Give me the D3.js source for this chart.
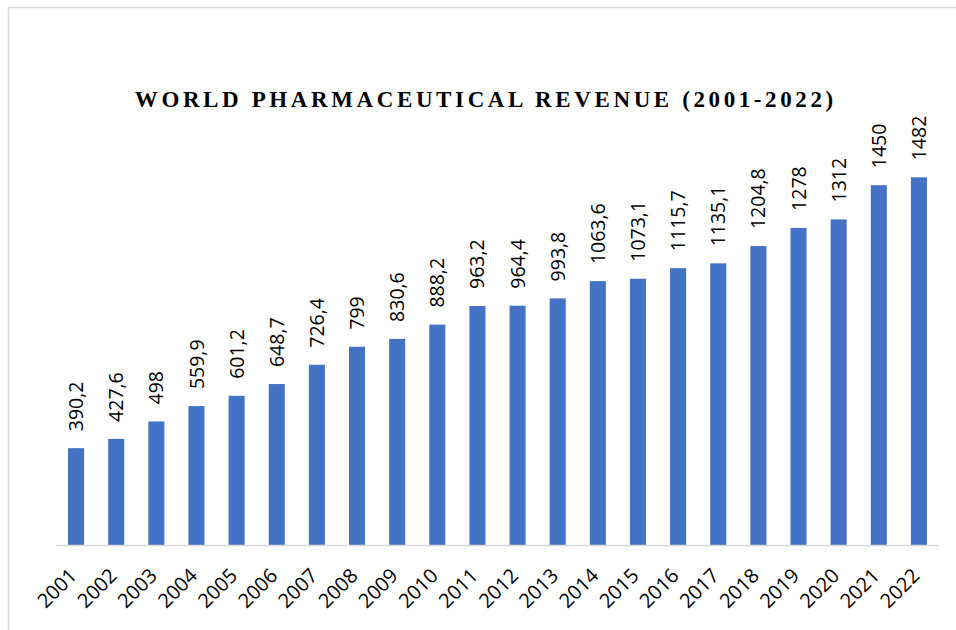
<!DOCTYPE html>
<html>
<head>
<meta charset="utf-8">
<script src="https://cdn.jsdelivr.net/npm/d3@7"></script>
<style>
    body { margin: 0; background: #ffffff; }
    #chart { width: 956px; height: 630px; }
    .chartTitle { font-family: "Liberation Serif", "Times New Roman", serif; font-weight: bold; font-size: 23px; fill: #000000; }
    .barLabels { font-family: "Open Sans", sans-serif; font-size: 19.5px; fill: #000000; }
    .xLabels { font-family: "Open Sans", sans-serif; font-size: 20px; fill: #000000; }
</style>
</head>
<body>
<div id="chart"><svg width="956" height="630"></svg></div>
<script>

// data
const years = ["2001", "2002", "2003", "2004", "2005", "2006", "2007", "2008", "2009", "2010", "2011",
               "2012", "2013", "2014", "2015", "2016", "2017", "2018", "2019", "2020", "2021", "2022"];
const revenue = [390.2, 427.6, 498, 559.9, 601.2, 648.7, 726.4, 799, 830.6, 888.2, 963.2,
                 964.4, 993.8, 1063.6, 1073.1, 1115.7, 1135.1, 1204.8, 1278, 1312, 1450, 1482];
const titleText = "WORLD PHARMACEUTICAL REVENUE (2001-2022)";

function makeChart() {

    /**********************
    ***** BASIC SETUP *****
    **********************/

    const width = 956;
    const height = 630;
    const margin = {top: 148, left: 56, right: 17, bottom: 85};

    const svg = d3.select("#chart").select("svg");

    const data = years.map((y, i) => ({year: y, value: revenue[i]}));

    // chart area border (runs off the right and bottom edges)
    svg.append("rect")
        .attr("x", 8.5)
        .attr("y", 7.5)
        .attr("width", 1000)
        .attr("height", 1000)
        .attr("fill", "none")
        .attr("stroke", "#d9d9d9")
        .attr("stroke-width", 1.5);

    /***********************
    ***** X & Y SCALES *****
    ***********************/

    const xBandScale = d3.scaleBand()
        .domain(years)
        .range([margin.left, width - margin.right])
        .paddingInner(0.6)
        .paddingOuter(0.3);

    const yScale = d3.scaleLinear()
        .domain([0, 1600])
        .range([height - margin.bottom, margin.top]);

    /***************
    ***** BARS *****
    ***************/

    const plot = svg.append("g").attr("id", "plot");

    plot.selectAll(".rects")
        .data(data)
        .enter()
        .append("rect")
        .attr("class", "rects")
        .attr("x", d => xBandScale(d.year))
        .attr("y", d => yScale(d.value))
        .attr("width", xBandScale.bandwidth())
        .attr("height", d => yScale(0) - yScale(d.value))
        .attr("fill", "#4472c4");

    // x axis baseline
    plot.append("line")
        .attr("x1", margin.left)
        .attr("x2", width - margin.right)
        .attr("y1", yScale(0) + 0.5)
        .attr("y2", yScale(0) + 0.5)
        .attr("stroke", "#d9d9d9")
        .attr("stroke-width", 1.5);

    /*********************
    ***** BAR LABELS *****
    *********************/

    plot.selectAll(".barLabels")
        .data(data)
        .enter()
        .append("text")
        .attr("class", "barLabels")
        .text(d => String(d.value).replace(".", ","))
        .attr("text-anchor", "start")
        .attr("dy", "0.36em")
        .attr("transform", d => {
            const cx = xBandScale(d.year) + xBandScale.bandwidth() / 2;
            return `translate(${cx}, ${yScale(d.value) - 17}) rotate(-90)`;
        });

    /***********************
    ***** X AXIS LABELS ****
    ***********************/

    plot.selectAll(".xLabels")
        .data(data)
        .enter()
        .append("text")
        .attr("class", "xLabels")
        .text(d => d.year)
        .attr("text-anchor", "end")
        .attr("transform", d => {
            const cx = xBandScale(d.year) + xBandScale.bandwidth() / 2 + 2;
            return `translate(${cx}, ${yScale(0) + 32}) rotate(-45)`;
        });

    /****************
    ***** TITLE *****
    ****************/

    const title = svg.append("text")
        .attr("class", "chartTitle")
        .attr("x", 484)
        .attr("y", 107)
        .attr("text-anchor", "middle")
        .text(titleText);

    // spread the letters so the title spans the same width as the reference
    const natural = title.node().getComputedTextLength();
    const spacing = (702 - natural) / titleText.length;
    title.style("letter-spacing", spacing + "px")
        .attr("x", 484 + spacing / 2);
}

makeChart();
</script>
</body>
</html>
